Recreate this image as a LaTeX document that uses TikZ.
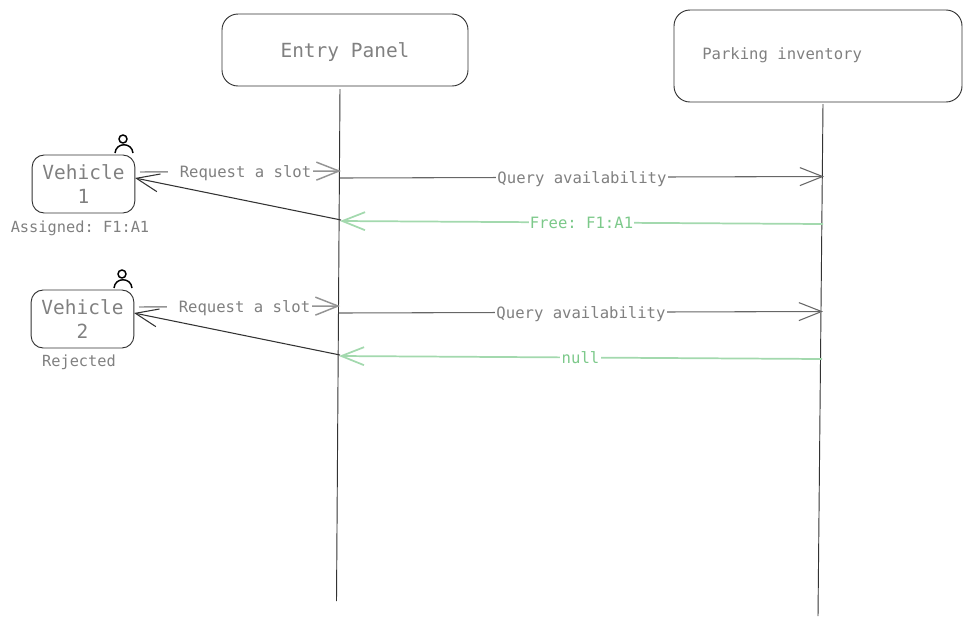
\documentclass[tikz,border=0pt]{standalone}
\usepackage{fontspec}
\setmonofont{DejaVu Sans Mono}
\usetikzlibrary{arrows.meta}
\definecolor{labelgray}{HTML}{808080}
\definecolor{replygreen}{HTML}{A3D9AE}
\definecolor{freegreen}{HTML}{7CC98A}
\tikzset{
  panelbox/.style={draw=black!80,line width=0.7pt,rounded corners=12pt,text=labelgray,font=\ttfamily\fontsize{14.6pt}{18pt}\selectfont,align=center,inner sep=0pt},
  lifeline/.style={draw=black!80,line width=0.7pt},
  msg/.style={-{Straight Barb[length=17pt,width=13.5pt]},line width=0.8pt},
  request/.style={msg,draw=black!42,line width=1.1pt},
  query/.style={msg,draw=black!60},
  reply/.style={msg,draw=black!80},
  free/.style={msg,draw=replygreen,line width=1.3pt},
  msglabel/.style={fill=white,text=labelgray,inner xsep=1pt,inner ysep=1pt,font=\ttfamily\fontsize{11.7pt}{14pt}\selectfont},
  note/.style={text=labelgray,inner sep=0pt,font=\ttfamily\fontsize{11.5pt}{14pt}\selectfont}
}
\begin{document}
\begin{tikzpicture}[x=0.75pt,y=-0.75pt]
\useasboundingbox (0,0) rectangle (971,626);
\node[panelbox,minimum width=184.5pt,minimum height=54pt] (entry) at (345,50) {\raisebox{-1.5pt}[\height][\depth]{Entry Panel}};
\node[panelbox,minimum width=216pt,minimum height=69pt] (inventory) at (818,56) {};
\node[msglabel,fill=none,inner sep=0pt,anchor=west] (inventorytext) at (702,55) {Parking inventory};
\node[panelbox,minimum width=77pt,minimum height=43.5pt,rounded corners=9pt] (vehicleone) at (83.5,184) {Vehicle\\1};
\node[panelbox,minimum width=77pt,minimum height=43.5pt,rounded corners=9pt] (vehicletwo) at (82.5,319) {Vehicle\\2};
\node[note] (assigned) at (80,228) {Assigned: F1:A1};
\node[note] (rejected) at (79,362.5) {Rejected};
\coordinate (entrytop) at (340,89);
\coordinate (entrybottom) at (336.5,601);
\coordinate (inventorytop) at (823,104);
\coordinate (inventorybottom) at (818,616);
\draw[lifeline] (entrytop) -- (entrybottom);
\draw[lifeline] (inventorytop) -- (inventorybottom);
\coordinate (reqonestart) at (140,172);
\coordinate (reqoneend) at (341,171);
\coordinate (qonestart) at (340,178);
\coordinate (qoneend) at (824,176.5);
\coordinate (freeonestart) at (823,224);
\coordinate (freeoneend) at (340,221);
\coordinate (replyonestart) at (341,220);
\coordinate (replyoneend) at (135,178);
\coordinate (reqtwostart) at (139,307);
\coordinate (reqtwoend) at (340,306);
\coordinate (qtwostart) at (339,313);
\coordinate (qtwoend) at (823,311.5);
\coordinate (freetwostart) at (822,359);
\coordinate (freetwoend) at (339,356);
\coordinate (replytwostart) at (340,355);
\coordinate (replytwoend) at (134,313);
\draw[request] (reqonestart) -- node[msglabel,pos=0.5,yshift=-1.3pt] (reqonetext) {\hspace*{7.5pt}Request a slot} (reqoneend);
\draw[query] (qonestart) -- node[msglabel,pos=0.5,yshift=-1.3pt] (qonetext) {Query availability} (qoneend);
\draw[free] (freeonestart) -- node[msglabel,text=freegreen,pos=0.5] (freeonetext) {Free: F1:A1} (freeoneend);
\draw[reply] (replyonestart) -- (replyoneend);
\draw[request] (reqtwostart) -- node[msglabel,pos=0.5,yshift=-1.3pt] (reqtwotext) {\hspace*{7.5pt}Request a slot} (reqtwoend);
\draw[query] (qtwostart) -- node[msglabel,pos=0.5,yshift=-1.3pt] (qtwotext) {Query availability} (qtwoend);
\draw[free] (freetwostart) -- node[msglabel,text=freegreen,pos=0.5] (freetwotext) {null} (freetwoend);
\draw[reply] (replytwostart) -- (replytwoend);
\draw[black,line width=1.1pt] (123,139) circle (3pt);
\draw[black,line width=1.1pt] (115,153) .. controls (116,142) and (132,142) .. (133,153);
\draw[black,line width=1.1pt] (122,274) circle (3pt);
\draw[black,line width=1.1pt] (114,288) .. controls (115,277) and (131,277) .. (132,288);
\end{tikzpicture}
\end{document}
